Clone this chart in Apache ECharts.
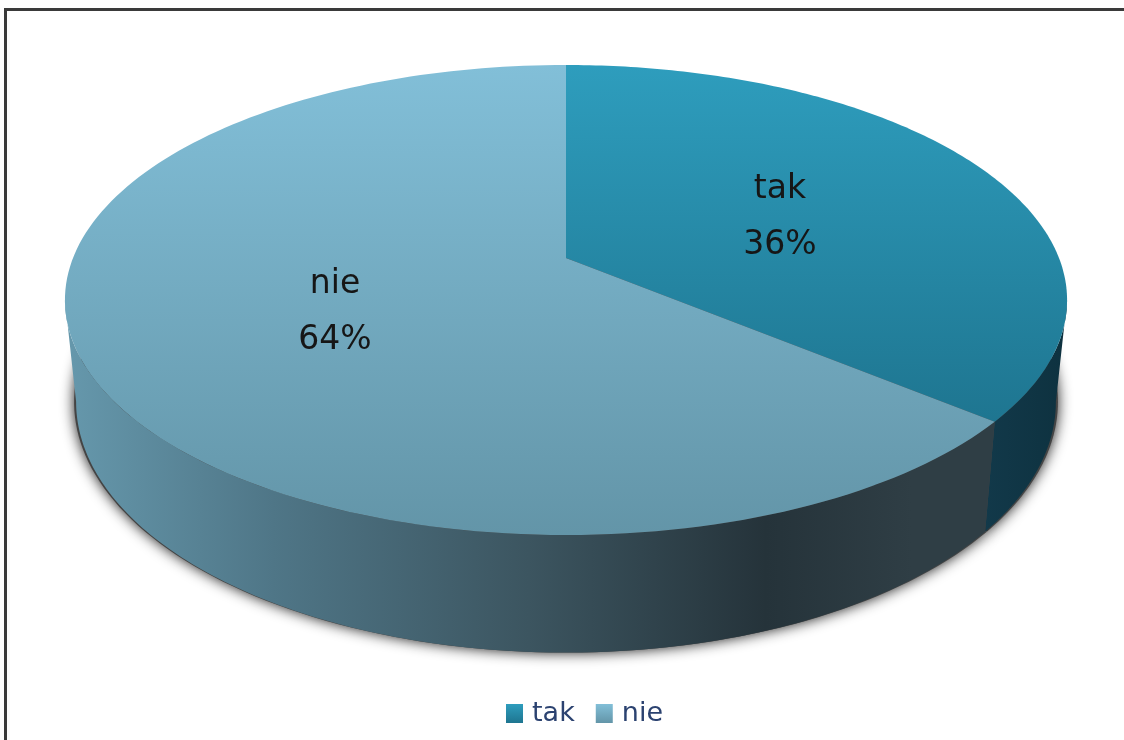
<!DOCTYPE html>
<html>
<head>
<meta charset="utf-8">
<style>html,body{margin:0;padding:0;background:#fff}#c{width:1124px;height:740px}</style>
<script src="https://cdn.jsdelivr.net/npm/echarts@6/dist/echarts.min.js"></script>
</head>
<body>
<div id="c"></div>
<script>
var categories = ['tak', 'nie'];
var values = [36, 64];

var topColors = [['#2E9DBD', '#1E7590'], ['#82BFD8', '#6395A8']];
var sideStops = [
  [[0, '#12394A'], [1, '#0E3240']],
  [[0, '#6597AB'], [0.22, '#4F7687'], [0.5, '#3C5560'], [0.76, '#25333A'], [0.92, '#2F3E45'], [1, '#2F3E45']]
];
var textAnchors = [[780, 217], [335, 312]];

// Perspective projection of the pie disc: top rim, bottom rim and its soft shadow
var CX = 566, PERSP = 0.1787;
var topRim = {r: 493, a: -181.4, b: 258};
var botRim = {r: 482, a: -179, b: 357};
var shadowRim = {r: 484, a: -179, b: 357};
var total = values.reduce(function (s, v) { return s + v; }, 0);
// the front of the side wall lies between the two silhouette tangents
var FRONT0 = Math.acos(-PERSP), FRONT1 = 2 * Math.PI - FRONT0;

function project(rim, ang, radius) {
  var u = radius * Math.sin(ang), v = radius * Math.cos(ang), w = 1 + PERSP * v;
  return [CX + rim.r * u / w, (rim.a * v + rim.b) / w];
}
function arc(rim, a0, a1) {
  var pts = [], n = 160;
  for (var i = 0; i <= n; i++) pts.push(project(rim, a0 + (a1 - a0) * i / n, 1));
  return pts;
}
function lin(x0, y0, x1, y1, stops) {
  return new echarts.graphic.LinearGradient(x0, y0, x1, y1,
    stops.map(function (s) { return {offset: s[0], color: s[1]}; }), true);
}
function sliceRange(idx) {
  var before = 0;
  for (var i = 0; i < idx; i++) before += values[i];
  return [before / total * 2 * Math.PI, (before + values[idx]) / total * 2 * Math.PI];
}
function renderSlice(idx) {
  var rg = sliceRange(idx), a0 = rg[0], a1 = rg[1];
  var s0 = Math.max(a0, FRONT0), s1 = Math.min(a1, FRONT1);
  var topArc = arc(topRim, a0, a1);
  var sideTop = arc(topRim, s0, s1), sideBot = arc(botRim, s0, s1);
  var apexTop = project(topRim, 0, 0), apexBot = project(shadowRim, 0, 0);
  var sideGrad = idx === 0 ? lin(983, 0, 1062, 0, sideStops[0]) : lin(72, 0, 985, 0, sideStops[1]);
  var topGrad = idx === 0
    ? lin(0, 65, 0, 425, [[0, topColors[0][0]], [1, topColors[0][1]]])
    : lin(0, 65, 0, 535, [[0, topColors[1][0]], [1, topColors[1][1]]]);
  var anchor = textAnchors[idx];
  var txt = {fontFamily: 'DejaVu Sans', fontSize: 33, fill: '#161616', align: 'center', verticalAlign: 'middle'};
  function label(str, y) {
    return {type: 'text', z2: 5, silent: true,
      style: Object.assign({}, txt, {text: str, x: anchor[0], y: y})};
  }
  return {
    type: 'group',
    children: [
      {type: 'polygon', z2: 0, silent: true,
        shape: {points: [apexBot].concat(arc(shadowRim, a0, a1))},
        style: {fill: '#444', shadowBlur: 14, shadowColor: 'rgba(0,0,0,0.9)'}},
      {type: 'polygon', z2: 1, silent: true,
        shape: {points: sideTop.concat(sideBot.slice().reverse())},
        style: {fill: sideGrad}},
      {type: 'polygon', z2: 2, silent: true,
        shape: {points: [apexTop].concat(topArc)},
        style: {fill: topGrad}},
      label(categories[idx], anchor[1] - 28),
      label(Math.round(values[idx] / total * 100) + '%', anchor[1] + 28)
    ]
  };
}

var chart = echarts.init(document.getElementById('c'), null, {renderer: 'canvas'});
chart.setOption({
  animation: false,
  backgroundColor: '#fff',
  graphic: [
    {type: 'rect', silent: true, shape: {x: 4, y: 8, width: 1120, height: 3}, style: {fill: '#3a3a3a'}},
    {type: 'rect', silent: true, shape: {x: 4, y: 8, width: 3, height: 732}, style: {fill: '#3a3a3a'}}
  ],
  legend: {
    data: categories,
    left: 501,
    top: 695,
    icon: 'rect',
    itemWidth: 17,
    itemHeight: 19,
    itemGap: 21,
    selectedMode: false,
    textStyle: {fontFamily: 'DejaVu Sans', fontSize: 27, color: '#2B4270', padding: [0, 0, 0, 4]}
  },
  series: categories.map(function (name, idx) {
    return {
      type: 'custom',
      name: name,
      coordinateSystem: 'none',
      silent: true,
      itemStyle: {
        color: new echarts.graphic.LinearGradient(0, 0, 0, 1, [
          {offset: 0, color: topColors[idx][0]},
          {offset: 1, color: topColors[idx][1]}
        ])
      },
      data: [values[idx]],
      renderItem: function () { return renderSlice(idx); }
    };
  })
});
</script>
</body>
</html>
